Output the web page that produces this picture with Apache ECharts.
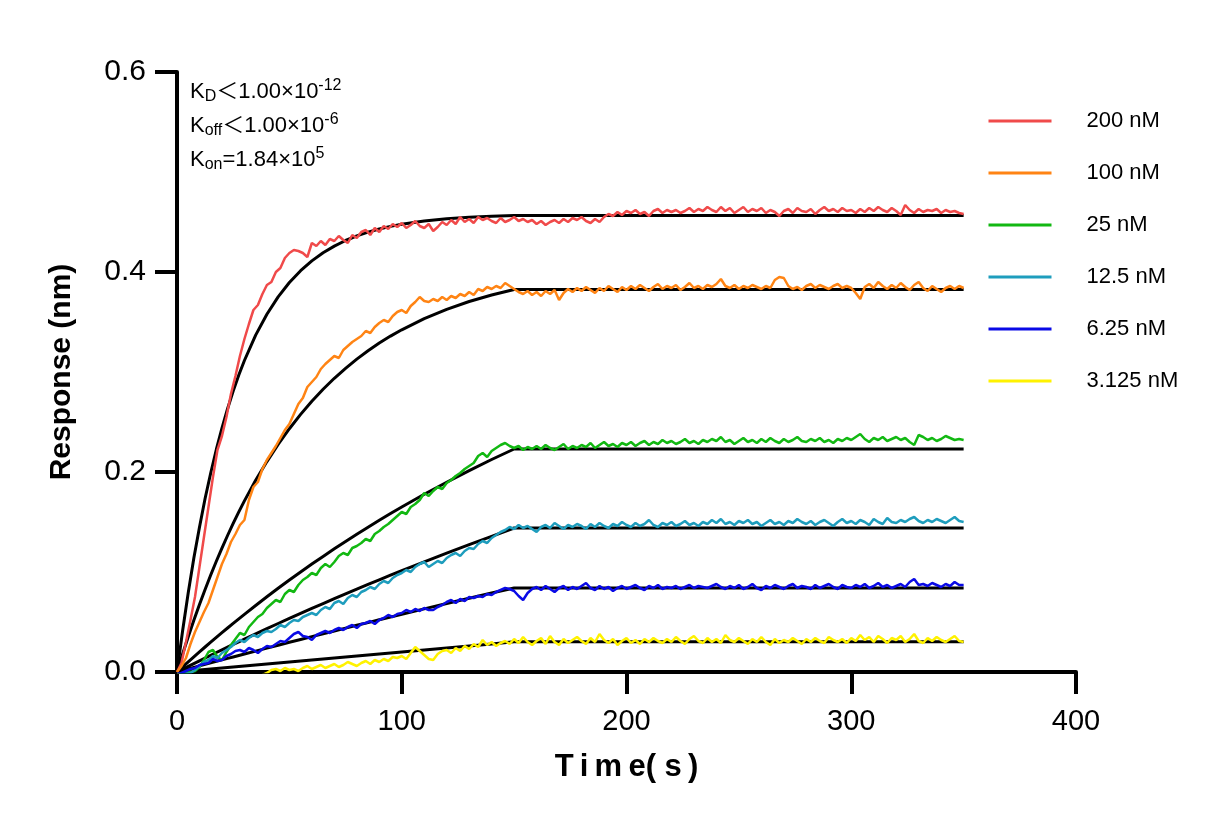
<!DOCTYPE html>
<html>
<head>
<meta charset="utf-8">
<script src="https://cdn.jsdelivr.net/npm/echarts@6/dist/echarts.min.js"></script>
<style>
html,body{margin:0;padding:0;background:#fff;}
#chart{width:1232px;height:825px;}
</style>
</head>
<body>
<div id="chart"></div>
<script>
// ---- DATA ----
// sample time grid of the measured traces (s)
const T_START = 0, T_STEP = 2;
const seriesNames = ['200 nM', '100 nM', '25 nM', '12.5 nM', '6.25 nM', '3.125 nM'];
const seriesColors = ['#F04A4A', '#FF8414', '#12B812', '#1E9DBD', '#0A0AE6', '#FFF200'];

const r200 = [
0.000,0.009,0.030,0.052,0.075,0.105,0.135,0.165,0.195,0.222,
0.236,0.255,0.278,0.296,0.316,0.333,0.348,0.362,0.367,0.378,
0.387,0.390,0.400,0.404,0.414,0.419,0.422,0.421,0.419,0.415,
0.429,0.426,0.431,0.427,0.433,0.431,0.436,0.432,0.429,0.437,
0.434,0.440,0.442,0.437,0.444,0.440,0.446,0.443,0.448,0.445,
0.449,0.444,0.447,0.451,0.446,0.444,0.448,0.441,0.445,0.450,
0.447,0.452,0.448,0.455,0.450,0.453,0.449,0.455,0.452,0.454,
0.451,0.449,0.454,0.450,0.452,0.455,0.451,0.453,0.450,0.452,
0.448,0.451,0.447,0.450,0.452,0.449,0.453,0.450,0.454,0.452,
0.455,0.451,0.449,0.453,0.450,0.455,0.458,0.456,0.460,0.457,
0.461,0.459,0.462,0.458,0.460,0.456,0.461,0.463,0.459,0.462,
0.460,0.462,0.459,0.461,0.464,0.460,0.463,0.461,0.465,0.462,
0.460,0.465,0.461,0.464,0.459,0.462,0.465,0.460,0.463,0.461,
0.464,0.459,0.462,0.460,0.456,0.461,0.463,0.459,0.464,0.461,
0.460,0.463,0.458,0.462,0.465,0.461,0.463,0.460,0.464,0.461,
0.462,0.459,0.463,0.460,0.464,0.461,0.465,0.462,0.460,0.464,
0.461,0.457,0.467,0.462,0.459,0.463,0.460,0.462,0.461,0.463,
0.459,0.462,0.460,0.461,0.459,0.458];

const r100 = [
0.000,0.006,0.014,0.028,0.040,0.050,0.060,0.069,0.082,0.095,
0.108,0.118,0.130,0.138,0.147,0.152,0.172,0.185,0.190,0.203,
0.212,0.219,0.226,0.234,0.242,0.248,0.258,0.268,0.274,0.285,
0.290,0.295,0.303,0.308,0.312,0.316,0.314,0.322,0.326,0.330,
0.333,0.336,0.341,0.339,0.345,0.349,0.352,0.350,0.356,0.360,
0.362,0.359,0.366,0.370,0.375,0.371,0.370,0.373,0.371,0.375,
0.372,0.376,0.374,0.378,0.376,0.380,0.377,0.383,0.381,0.385,
0.383,0.386,0.384,0.389,0.386,0.383,0.380,0.378,0.381,0.377,
0.380,0.376,0.381,0.378,0.382,0.372,0.379,0.383,0.380,0.384,
0.381,0.385,0.382,0.379,0.384,0.381,0.386,0.383,0.380,0.385,
0.382,0.386,0.383,0.387,0.384,0.381,0.385,0.388,0.383,0.386,
0.384,0.387,0.382,0.385,0.389,0.384,0.386,0.383,0.387,0.385,
0.388,0.393,0.386,0.384,0.387,0.383,0.386,0.384,0.387,0.385,
0.383,0.386,0.384,0.392,0.395,0.394,0.386,0.383,0.385,0.382,
0.386,0.388,0.384,0.387,0.385,0.383,0.386,0.388,0.384,0.386,
0.384,0.379,0.373,0.385,0.388,0.384,0.390,0.386,0.383,0.387,
0.384,0.389,0.385,0.382,0.387,0.390,0.384,0.381,0.386,0.383,
0.380,0.384,0.386,0.383,0.386,0.384];

const r25 = [
-0.002,-0.002,-0.001,0.000,0.001,0.005,0.012,0.020,0.022,0.015,
0.012,0.020,0.027,0.033,0.039,0.037,0.045,0.050,0.055,0.058,
0.064,0.068,0.072,0.070,0.078,0.082,0.080,0.087,0.092,0.095,
0.099,0.097,0.104,0.108,0.105,0.110,0.116,0.119,0.117,0.124,
0.126,0.129,0.133,0.131,0.138,0.141,0.145,0.148,0.152,0.156,
0.160,0.158,0.165,0.168,0.172,0.179,0.176,0.181,0.185,0.183,
0.189,0.192,0.196,0.199,0.203,0.206,0.209,0.216,0.219,0.215,
0.221,0.224,0.227,0.229,0.226,0.224,0.226,0.222,0.225,0.223,
0.226,0.223,0.227,0.224,0.222,0.225,0.228,0.223,0.226,0.224,
0.227,0.225,0.229,0.224,0.227,0.230,0.226,0.228,0.225,0.229,
0.227,0.230,0.226,0.229,0.231,0.227,0.230,0.228,0.232,0.229,
0.231,0.228,0.230,0.233,0.229,0.231,0.228,0.232,0.230,0.233,
0.231,0.235,0.230,0.232,0.228,0.231,0.234,0.230,0.232,0.229,
0.233,0.230,0.234,0.231,0.229,0.233,0.230,0.232,0.235,0.231,
0.230,0.233,0.231,0.234,0.230,0.232,0.229,0.233,0.231,0.234,
0.232,0.235,0.238,0.233,0.230,0.234,0.232,0.235,0.231,0.233,
0.235,0.232,0.234,0.230,0.227,0.237,0.235,0.232,0.234,0.231,
0.233,0.236,0.234,0.232,0.233,0.232];

const r12_5 = [
-0.003,-0.002,-0.002,-0.001,0.002,0.006,0.010,0.012,0.016,0.014,
0.019,0.022,0.025,0.029,0.032,0.030,0.034,0.037,0.035,0.039,
0.041,0.040,0.043,0.047,0.045,0.049,0.052,0.051,0.055,0.057,
0.059,0.057,0.062,0.065,0.063,0.069,0.071,0.068,0.074,0.077,
0.075,0.080,0.082,0.085,0.083,0.088,0.091,0.089,0.094,0.097,
0.099,0.102,0.100,0.105,0.108,0.110,0.105,0.108,0.111,0.109,
0.114,0.117,0.119,0.116,0.121,0.124,0.123,0.128,0.131,0.129,
0.134,0.137,0.140,0.142,0.145,0.143,0.147,0.144,0.146,0.143,
0.140,0.145,0.147,0.144,0.149,0.146,0.143,0.147,0.145,0.148,
0.146,0.143,0.148,0.145,0.149,0.146,0.144,0.148,0.146,0.150,
0.147,0.145,0.149,0.146,0.148,0.152,0.147,0.145,0.149,0.147,
0.150,0.146,0.148,0.151,0.147,0.149,0.146,0.150,0.148,0.152,
0.149,0.153,0.148,0.150,0.147,0.151,0.149,0.152,0.148,0.150,
0.146,0.149,0.152,0.148,0.150,0.147,0.151,0.149,0.153,0.150,
0.148,0.151,0.147,0.150,0.152,0.149,0.146,0.150,0.153,0.149,
0.151,0.148,0.152,0.150,0.147,0.153,0.150,0.148,0.154,0.150,
0.149,0.152,0.150,0.153,0.155,0.151,0.149,0.152,0.150,0.153,
0.151,0.149,0.152,0.155,0.151,0.150];

const r6_25 = [
-0.002,-0.001,0.001,0.003,0.004,0.007,0.008,0.009,0.013,0.011,
0.012,0.016,0.018,0.021,0.022,0.020,0.024,0.022,0.019,0.023,
0.026,0.025,0.028,0.031,0.030,0.034,0.038,0.040,0.036,0.035,
0.032,0.037,0.039,0.041,0.039,0.042,0.044,0.042,0.045,0.047,
0.044,0.048,0.049,0.051,0.048,0.052,0.054,0.057,0.055,0.058,
0.059,0.062,0.060,0.063,0.061,0.064,0.062,0.062,0.065,0.067,
0.070,0.072,0.069,0.073,0.071,0.075,0.074,0.076,0.075,0.078,
0.077,0.080,0.082,0.084,0.083,0.081,0.076,0.072,0.079,0.083,
0.085,0.082,0.086,0.083,0.080,0.084,0.086,0.082,0.085,0.083,
0.086,0.089,0.084,0.082,0.086,0.083,0.085,0.081,0.084,0.086,
0.083,0.085,0.087,0.084,0.082,0.086,0.084,0.087,0.083,0.085,
0.084,0.086,0.083,0.085,0.087,0.084,0.086,0.085,0.084,0.086,
0.088,0.085,0.083,0.086,0.084,0.087,0.083,0.085,0.088,0.084,
0.082,0.086,0.084,0.087,0.085,0.083,0.086,0.088,0.084,0.086,
0.085,0.083,0.087,0.084,0.086,0.088,0.085,0.083,0.087,0.085,
0.084,0.087,0.085,0.088,0.084,0.086,0.089,0.085,0.087,0.084,
0.086,0.088,0.085,0.090,0.093,0.087,0.088,0.086,0.089,0.087,
0.085,0.088,0.086,0.090,0.087,0.087];

const r3_125 = [
-0.002,-0.004,-0.006,-0.008,-0.007,-0.009,-0.010,-0.008,-0.009,-0.011,
-0.010,-0.008,-0.009,-0.007,-0.008,-0.006,-0.007,-0.005,-0.004,-0.003,
-0.001,0.002,0.003,0.001,0.004,0.002,0.003,0.001,0.004,0.006,
0.003,0.005,0.007,0.004,0.006,0.008,0.005,0.007,0.010,0.008,
0.006,0.009,0.011,0.008,0.012,0.010,0.013,0.011,0.015,0.014,
0.016,0.013,0.019,0.025,0.021,0.017,0.013,0.012,0.018,0.021,
0.022,0.019,0.024,0.021,0.026,0.023,0.028,0.025,0.032,0.027,
0.030,0.026,0.029,0.031,0.028,0.033,0.029,0.035,0.030,0.027,
0.031,0.034,0.028,0.036,0.030,0.027,0.033,0.029,0.032,0.035,
0.031,0.028,0.034,0.030,0.038,0.032,0.029,0.033,0.027,0.031,
0.034,0.029,0.032,0.028,0.033,0.030,0.034,0.031,0.029,0.033,
0.030,0.035,0.031,0.028,0.033,0.036,0.031,0.029,0.034,0.030,
0.033,0.029,0.037,0.032,0.030,0.034,0.031,0.028,0.033,0.030,
0.035,0.030,0.027,0.033,0.029,0.032,0.030,0.034,0.031,0.028,
0.033,0.030,0.034,0.031,0.029,0.035,0.032,0.030,0.033,0.029,
0.034,0.031,0.037,0.032,0.035,0.030,0.036,0.033,0.029,0.034,
0.032,0.036,0.030,0.033,0.038,0.031,0.029,0.034,0.031,0.035,
0.032,0.030,0.033,0.036,0.031,0.030];

// fitted curves (black), sampled at these times (s)
const fitTimes = [0,2.5,5,7.5,10,12.5,15,17.5,20,22.5,25,27.5,30,35,40,45,50,55,60,65,70,75,80,85,90,95,100,110,120,130,140,150,350];
const fit200 = [0,0.0413,0.0792,0.1140,0.1448,0.1735,0.1990,0.2225,0.2438,0.2633,0.2809,0.2970,0.3115,0.3369,0.3578,0.3751,0.3895,0.4013,0.4111,0.4193,0.4259,0.4315,0.4361,0.4399,0.4430,0.4456,0.4477,0.4510,0.4532,0.4547,0.4558,0.4565,0.4565];
const fit100 = [0,0.0180,0.0353,0.0518,0.0675,0.0826,0.0970,0.1108,0.1239,0.1365,0.1486,0.1601,0.1711,0.1917,0.2104,0.2276,0.2433,0.2576,0.2708,0.2827,0.2937,0.3037,0.3129,0.3212,0.3289,0.3359,0.3422,0.3534,0.3627,0.3705,0.3770,0.3825,0.3825];
const fit25 = [0,0.0051,0.0102,0.0152,0.0201,0.0250,0.0298,0.0346,0.0393,0.0440,0.0486,0.0532,0.0577,0.0665,0.0752,0.0837,0.0920,0.1000,0.1079,0.1156,0.1232,0.1306,0.1377,0.1448,0.1517,0.1585,0.1650,0.1777,0.1898,0.2014,0.2125,0.2230,0.2230];
const fit12_5 = [0,0.0028,0.0056,0.0084,0.0112,0.0140,0.0167,0.0195,0.0222,0.0249,0.0276,0.0302,0.0329,0.0381,0.0434,0.0485,0.0536,0.0586,0.0636,0.0685,0.0734,0.0781,0.0829,0.0876,0.0922,0.0968,0.1013,0.1102,0.1189,0.1273,0.1356,0.1440,0.1440];
const fit6_25 = [0,0.0015,0.0030,0.0046,0.0061,0.0076,0.0091,0.0106,0.0121,0.0136,0.0150,0.0165,0.0180,0.0209,0.0239,0.0268,0.0297,0.0325,0.0354,0.0382,0.0410,0.0439,0.0467,0.0494,0.0522,0.0549,0.0577,0.0631,0.0685,0.0738,0.0790,0.0840,0.0840];
const fit3_125 = [0,0.0005,0.0010,0.0015,0.0020,0.0025,0.0030,0.0035,0.0040,0.0045,0.0050,0.0055,0.0060,0.0070,0.0080,0.0090,0.0100,0.0110,0.0120,0.0130,0.0140,0.0150,0.0160,0.0170,0.0180,0.0190,0.0200,0.0220,0.0240,0.0260,0.0280,0.0302,0.0302];

const xTicks = [0, 100, 200, 300, 400];
const yTicks = [0, 0.2, 0.4, 0.6];

// ---- CHART ----
const traces = [r200, r100, r25, r12_5, r6_25, r3_125];
const fits = [fit200, fit100, fit25, fit12_5, fit6_25, fit3_125];
const FONT = "'Liberation Sans', Arial, 'Noto Sans CJK SC', sans-serif";

const series = [];
fits.forEach((f, k) => {
  series.push({
    name: 'fit ' + seriesNames[k], type: 'line', data: fitTimes.map((t, i) => [t, f[i]]),
    showSymbol: false, symbol: 'none', smooth: false,
    lineStyle: {color: '#000', width: 3, join: 'round'}, itemStyle: {color: '#000'}, z: 2, silent: true, clip: true
  });
});
traces.forEach((d, k) => {
  series.push({
    name: seriesNames[k], type: 'line', data: d.map((v, i) => [T_START + i * T_STEP, v]),
    showSymbol: false, symbol: 'none',
    lineStyle: {color: seriesColors[k], width: 2.5}, itemStyle: {color: seriesColors[k]}, z: 3, clip: true
  });
});

const rich = {
  b: {fontSize: 22, fontFamily: FONT, color: '#000'},
  sub: {fontSize: 16, fontFamily: FONT, color: '#000', padding: [11, 0, 0, 0]},
  sup: {fontSize: 16, fontFamily: FONT, color: '#000', padding: [0, 0, 11, 0]}
};
const annot = [
  '{b|K}{sub|D}{b|＜1.00×10}{sup|-12}',
  '{b|K}{sub|off}{b|＜1.00×10}{sup|-6}',
  '{b|K}{sub|on}{b|=1.84×10}{sup|5}'
];

const chart = echarts.init(document.getElementById('chart'), null, {renderer: 'canvas'});
chart.setOption({
  animation: false,
  backgroundColor: '#fff',
  grid: {left: 177, right: 156, top: 72, bottom: 153, containLabel: false},
  xAxis: {
    type: 'value', min: xTicks[0], max: xTicks[xTicks.length - 1], interval: 100,
    name: 'T\u2009i\u2009m\u2009e( s\u2009)', nameLocation: 'middle', nameGap: 80,
    nameTextStyle: {fontSize: 31, fontWeight: 'bold', color: '#000', fontFamily: FONT},
    axisLine: {lineStyle: {color: '#000', width: 4}},
    axisTick: {show: true, inside: false, length: 22, lineStyle: {color: '#000', width: 4}},
    axisLabel: {fontSize: 29, color: '#000', fontFamily: FONT, margin: 35},
    splitLine: {show: false}
  },
  yAxis: {
    type: 'value', min: yTicks[0], max: yTicks[yTicks.length - 1], interval: 0.2,
    name: 'Response (nm)', nameLocation: 'middle', nameGap: 100,
    nameTextStyle: {fontSize: 30, fontWeight: 'bold', color: '#000', fontFamily: FONT},
    axisLine: {lineStyle: {color: '#000', width: 4}},
    axisTick: {show: true, inside: false, length: 22, lineStyle: {color: '#000', width: 4}},
    axisLabel: {fontSize: 30, color: '#000', fontFamily: FONT, margin: 31, formatter: v => v.toFixed(1)},
    splitLine: {show: false}
  },
  legend: {
    data: seriesNames, orient: 'vertical', left: 987, top: 110, padding: 0,
    itemWidth: 63, itemHeight: 24, itemGap: 30,
    textStyle: {fontSize: 22, color: '#000', fontFamily: FONT, padding: [0, 0, 0, 30]},
    itemStyle: {opacity: 0}, lineStyle: {width: 3},
    selectedMode: false
  },
  graphic: annot.map((txt, i) => ({
    type: 'text', left: 190, top: 78 + i * 34, silent: true,
    style: {text: txt, rich: rich, font: '22px ' + FONT, fill: '#000'}
  })),
  series: series
});
</script>
</body>
</html>
